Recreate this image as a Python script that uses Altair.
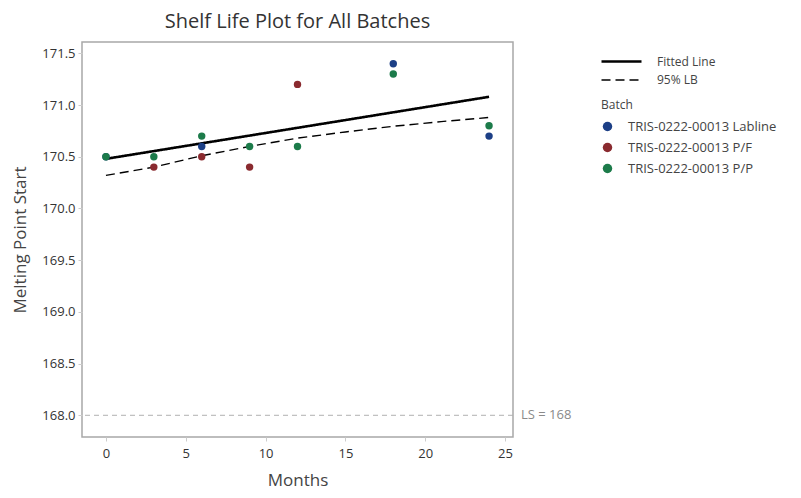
import altair as alt
import pandas as pd

# ---- data ----
batches = ["TRIS-0222-00013 Labline", "TRIS-0222-00013 P/F", "TRIS-0222-00013 P/P"]
batch_colors = ["#1c3f86", "#8a2a2f", "#1c7b4a"]

labline_months = [0, 6, 18, 24]
labline_values = [170.5, 170.6, 171.4, 170.7]
pf_months = [3, 6, 9, 12]
pf_values = [170.4, 170.5, 170.4, 171.2]
pp_months = [0, 3, 6, 9, 12, 18, 24]
pp_values = [170.5, 170.5, 170.7, 170.6, 170.6, 171.3, 170.8]

fit_months = [0, 24]
fit_values = [170.48, 171.08]
lb_months = [0, 3, 6, 9, 12, 15, 18, 21, 24]
lb_values = [170.32, 170.40, 170.51, 170.60, 170.68, 170.74, 170.795, 170.84, 170.88]

ls_value = 168.0
ls_label = "LS = 168"
line_types = ["Fitted Line", "95% LB"]

x_ticks = [0, 5, 10, 15, 20, 25]
y_ticks = [168.0, 168.5, 169.0, 169.5, 170.0, 170.5, 171.0, 171.5]

# ---- tables ----
pts = pd.DataFrame(
    [{"Months": m, "Value": v, "Batch": batches[0]} for m, v in zip(labline_months, labline_values)]
    + [{"Months": m, "Value": v, "Batch": batches[1]} for m, v in zip(pf_months, pf_values)]
    + [{"Months": m, "Value": v, "Batch": batches[2]} for m, v in zip(pp_months, pp_values)]
)
lines = pd.DataFrame(
    [{"Months": m, "Value": v, "Type": line_types[0]} for m, v in zip(fit_months, fit_values)]
    + [{"Months": m, "Value": v, "Type": line_types[1]} for m, v in zip(lb_months, lb_values)]
)
ls_df = pd.DataFrame({"Value": [ls_value], "Label": [ls_label], "Months": [25.5]})

FONT = "Open Sans"
xscale = alt.Scale(domain=[-1.5, 25.5], nice=False, zero=False)
yscale = alt.Scale(domain=[167.79, 171.61], nice=False, zero=False)

xax = alt.Axis(values=x_ticks, title="Months", grid=False, domain=False,
               tickColor="#cccccc", tickSize=4, labelFontSize=13, labelColor="#333333",
               titleFontSize=17, titleFontWeight="normal", titleColor="#444444",
               labelPadding=6, titlePadding=12, labelFont=FONT, titleFont=FONT)
yax = alt.Axis(values=y_ticks, format=".1f", title="Melting Point Start", grid=False, domain=False,
               tickColor="#cccccc", tickSize=4, labelFontSize=13, labelColor="#333333",
               titleFontSize=17, titleFontWeight="normal", titleColor="#444444",
               labelPadding=3, titlePadding=12, labelFont=FONT, titleFont=FONT)

ls_rule = alt.Chart(ls_df).mark_rule(color="#b0b0b0", strokeDash=[5, 4], strokeWidth=1).encode(
    y=alt.Y("Value:Q", scale=yscale, axis=yax)
)
ls_text = alt.Chart(ls_df).mark_text(align="left", dx=8, fontSize=13, color="#8a8a8a",
                                     font=FONT, clip=False).encode(
    x=alt.X("Months:Q", scale=xscale, axis=xax),
    y=alt.Y("Value:Q", scale=yscale),
    text="Label:N",
)

line_legend = dict(title=None, orient="none", legendX=528, legendY=8,
                   symbolSize=400, symbolType="M-2,0L2,0", symbolStrokeColor="black",
                   labelFontSize=12, labelColor="#444444", labelFont=FONT,
                   labelOffset=24, rowPadding=1)

line_layer = alt.Chart(lines).mark_line(color="black").encode(
    x=alt.X("Months:Q", scale=xscale, axis=xax),
    y=alt.Y("Value:Q", scale=yscale, axis=yax),
    strokeDash=alt.StrokeDash("Type:N", scale=alt.Scale(domain=line_types, range=[[1, 0], [9, 5]]),
                              legend=alt.Legend(**line_legend)),
    strokeWidth=alt.StrokeWidth("Type:N", scale=alt.Scale(domain=line_types, range=[2.6, 1.4]),
                                legend=alt.Legend(**line_legend)),
)

point_layer = alt.Chart(pts).mark_circle(size=55, opacity=1).encode(
    x=alt.X("Months:Q", scale=xscale, axis=xax),
    y=alt.Y("Value:Q", scale=yscale, axis=yax),
    color=alt.Color("Batch:N", scale=alt.Scale(domain=batches, range=batch_colors),
                    legend=alt.Legend(title="Batch", orient="none", legendX=519, legendY=58,
                                      symbolType="circle", symbolSize=90, symbolOpacity=1,
                                      titleFontSize=12, titleFontWeight="normal", titleColor="#444444",
                                      titleFont=FONT, labelFont=FONT, labelFontSize=13,
                                      labelColor="#444444", labelOffset=14, rowPadding=7,
                                      titlePadding=8, labelLimit=300)),
)

chart = alt.layer(ls_rule, line_layer, point_layer, ls_text).resolve_legend(
    color="independent", strokeDash="shared"
).properties(
    width=431, height=395,
    title=alt.Title("Shelf Life Plot for All Batches", fontSize=20, fontWeight="normal",
                    color="#333333", font=FONT, anchor="middle", offset=10),
    autosize=alt.AutoSizeParams(type="none"),
    padding={"left": 74, "top": 34, "right": 280, "bottom": 53},
).configure_view(stroke="#a8a8a8", strokeWidth=1.5)

chart.save("out.html", embed_options={"renderer": "svg", "actions": False})
